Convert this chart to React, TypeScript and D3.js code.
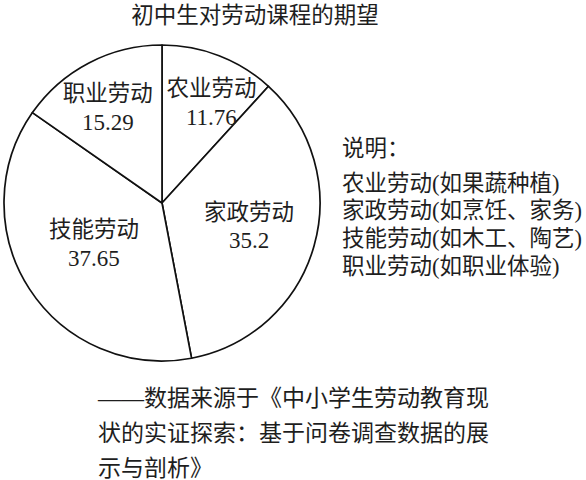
import React from "react";
import * as d3 from "d3";

const categories = ["农业劳动", "家政劳动", "技能劳动", "职业劳动"];
const values = [11.76, 35.2, 37.65, 15.29];
const valueLabels = ["11.76", "35.2", "37.65", "15.29"];
const title = "初中生对劳动课程的期望";
const legendTitle = "说明：";
const legendLines = [
  "农业劳动(如果蔬种植)",
  "家政劳动(如烹饪、家务)",
  "技能劳动(如木工、陶艺)",
  "职业劳动(如职业体验)",
];
const sourceLines = [
  "——数据来源于《中小学生劳动教育现",
  "状的实证探索：基于问卷调查数据的展",
  "示与剖析》",
];

const W = 586;
const H = 480;
const cx = 162;
const cy = 203;
const R = 158;
const labelRadius = [112, 90, 79, 110];
const labelAngleShift = [5, -1, 2.5, -2];
const FONT = "'Liberation Serif', 'Noto Sans CJK SC', serif";
const INK = "#1e1e1e";

export default function App() {
  const pie = d3
    .pie<number>()
    .sort(null)
    .value((d) => d)
    .startAngle(0)
    .endAngle(2 * Math.PI);
  const arcs = pie(values);
  const arcGen = d3.arc<d3.PieArcDatum<number>>().innerRadius(0).outerRadius(R);

  return (
    <svg
      width={W}
      height={H}
      style={{ position: "absolute", left: 0, top: 0, background: "#fff" }}
      fontFamily={FONT}
    >
      <rect width={W} height={H} fill="#fff" />
      <text x={255} y={15} fontSize={22.5} fill={INK} textAnchor="middle" dominantBaseline="central">
        {title}
      </text>
      <g transform={`translate(${cx},${cy})`}>
        {arcs.map((a, i) => (
          <path key={i} d={arcGen(a) || ""} fill="#fff" stroke="#111" strokeWidth={1.7} strokeLinejoin="round" />
        ))}
        {arcs.map((a, i) => {
          const mid = (a.startAngle + a.endAngle) / 2 + (labelAngleShift[i] * Math.PI) / 180;
          const lr = labelRadius[i];
          const x = Math.sin(mid) * lr;
          const y = -Math.cos(mid) * lr;
          return (
            <g key={"l" + i}>
              <text x={x} y={y - 14} fontSize={22.5} fill={INK} textAnchor="middle" dominantBaseline="central">
                {categories[i]}
              </text>
              <text x={x} y={y + 15} fontSize={23} fill={INK} textAnchor="middle" dominantBaseline="central">
                {valueLabels[i]}
              </text>
            </g>
          );
        })}
      </g>
      <g>
        <text x={342} y={148} fontSize={22.5} fill={INK} dominantBaseline="central">
          {legendTitle}
        </text>
        {legendLines.map((t, i) => (
          <text key={i} x={342} y={183 + i * 27.7} fontSize={22.5} fill={INK} dominantBaseline="central">
            {t}
          </text>
        ))}
      </g>
      <g>
        {sourceLines.map((t, i) => (
          <text key={i} x={98} y={398 + i * 35} fontSize={23} fill={INK} dominantBaseline="central">
            {t}
          </text>
        ))}
      </g>
    </svg>
  );
}
